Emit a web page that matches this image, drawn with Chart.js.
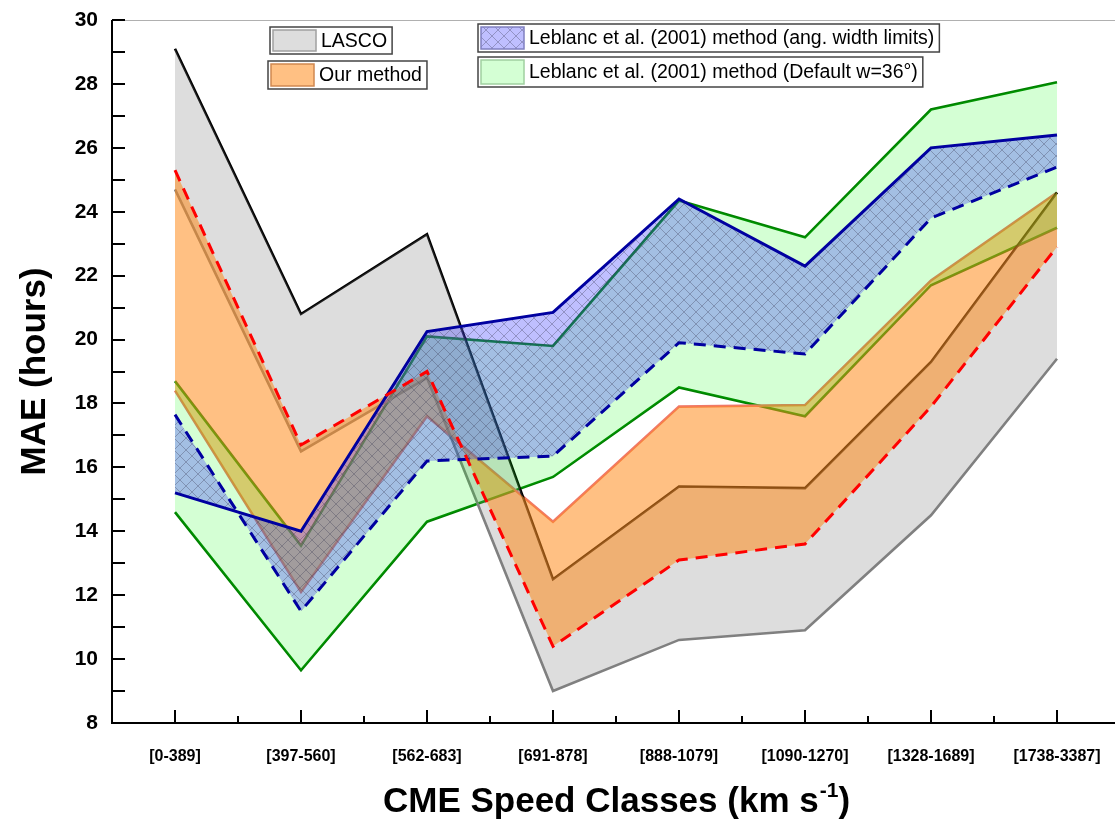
<!DOCTYPE html>
<html lang="en">
<head>
    <meta charset="UTF-8">
    <title>MAE vs CME Speed Classes</title>
    <script src="https://cdn.jsdelivr.net/npm/chart.js"></script>
    <style>
        body { margin: 0; background: #fff; overflow: hidden; }
        .wrap { width: 1120px; height: 825px; }
    </style>
</head>
<body>
    <div class="wrap">
        <canvas id="maeChart" width="1120" height="825"></canvas>
    </div>
    <script>
// CME speed classes (km/s)
const speedClasses = ['[0-389]', '[397-560]', '[562-683]', '[691-878]', '[888-1079]', '[1090-1270]', '[1328-1689]', '[1738-3387]'];

// MAE (hours) - band edges
const lascoUpper = [29.1, 20.8, 23.3, 12.5, 15.4, 15.35, 19.3, 24.6];
const lascoLower = [24.7, 16.5, 18.8, 9.0, 10.6, 10.9, 14.5, 19.4];
const oursUpper = [25.3, 16.7, 19.0, 10.4, 13.1, 13.6, 17.9, 22.9];
const oursLower = [18.4, 12.1, 17.6, 14.3, 17.9, 17.95, 21.85, 24.6];
const angWidthSolid = [15.2, 14.0, 20.25, 20.85, 24.4, 22.3, 26.0, 26.4];
const angWidthDashed = [17.65, 11.5, 16.2, 16.35, 19.9, 19.55, 23.8, 25.4];
const defaultUpper = [18.7, 13.55, 20.1, 19.8, 24.35, 23.2, 27.2, 28.05];
const defaultLower = [14.6, 9.65, 14.3, 15.7, 18.5, 17.6, 21.7, 23.5];

const yTicks = { min: 8, max: 30, step: 2 };

const FONT = "'Liberation Sans', Arial, sans-serif";

const grayFill = 'rgba(128,128,128,0.27)';
const orangeFill = 'rgba(255,140,30,0.55)';
const greenFill = 'rgba(0,255,0,0.17)';
const blueFill = 'rgba(60,60,255,0.33)';

// cross-hatch pattern for the "ang. width limits" band
function makeHatch() {
    const c = document.createElement('canvas');
    c.width = 12; c.height = 12;
    const g = c.getContext('2d');
    g.fillStyle = blueFill;
    g.fillRect(0, 0, 12, 12);
    g.strokeStyle = 'rgba(60,60,90,0.35)';
    g.lineWidth = 1;
    g.beginPath();
    g.moveTo(-1, -1); g.lineTo(13, 13);
    g.moveTo(13, -1); g.lineTo(-1, 13);
    g.stroke();
    return g.createPattern(c, 'repeat');
}
const hatch = makeHatch();

// order 10 = drawn under the fills, order 0 = drawn on top of them
function lineSet(label, data, color, width, dash, order) {
    return {
        label: label,
        data: data,
        borderColor: color,
        borderWidth: width,
        borderDash: dash || [],
        pointRadius: 0,
        tension: 0,
        fill: false,
        order: order
    };
}

function fillSet(label, data, target, bg, order) {
    return {
        label: label,
        data: data,
        borderColor: 'transparent',
        borderWidth: 0,
        pointRadius: 0,
        tension: 0,
        backgroundColor: bg,
        fill: target,
        order: order
    };
}

// axes drawn by hand: ticks point inward like the original
const axesPlugin = {
    id: 'axesPlugin',
    afterDatasetsDraw(chart) {
        const { ctx, chartArea: a, scales: { x, y } } = chart;
        ctx.save();
        ctx.strokeStyle = '#b0b0b0';
        ctx.lineWidth = 1;
        ctx.beginPath();
        ctx.moveTo(a.left, a.top + 0.5);
        ctx.lineTo(a.right, a.top + 0.5);
        ctx.stroke();

        ctx.strokeStyle = '#000';
        ctx.lineWidth = 2;
        ctx.beginPath();
        ctx.moveTo(a.left, a.top);
        ctx.lineTo(a.left, a.bottom + 1);
        ctx.moveTo(a.left - 1, a.bottom);
        ctx.lineTo(a.right, a.bottom);
        for (let v = yTicks.min; v <= yTicks.max; v++) {
            const py = Math.round(y.getPixelForValue(v));
            ctx.moveTo(a.left, py);
            ctx.lineTo(a.left + 13, py);
        }
        for (let i = 0; i < speedClasses.length; i++) {
            const px = Math.round(x.getPixelForValue(i));
            ctx.moveTo(px, a.bottom);
            ctx.lineTo(px, a.bottom - 13);
            if (i > 0) {
                const mx = Math.round((x.getPixelForValue(i - 1) + px) / 2);
                ctx.moveTo(mx, a.bottom);
                ctx.lineTo(mx, a.bottom - 7);
            }
        }
        ctx.stroke();
        ctx.restore();
    },
    afterDraw(chart) {
        const { ctx, chartArea: a } = chart;
        ctx.save();
        ctx.fillStyle = '#000';

        // x axis title with superscript
        const main = 'CME Speed Classes (km s';
        const sup = '-1';
        const tail = ')';
        ctx.font = 'bold 35px ' + FONT;
        const wMain = ctx.measureText(main).width;
        const wTail = ctx.measureText(tail).width;
        ctx.font = 'bold 21px ' + FONT;
        const wSup = ctx.measureText(sup).width;
        const cx = (a.left + a.right) / 2;
        let sx = cx - (wMain + wSup + wTail) / 2;
        const base = 812;
        ctx.textBaseline = 'alphabetic';
        ctx.textAlign = 'left';
        ctx.font = 'bold 35px ' + FONT;
        ctx.fillText(main, sx, base);
        ctx.font = 'bold 21px ' + FONT;
        ctx.fillText(sup, sx + wMain + 1, base - 15);
        ctx.font = 'bold 35px ' + FONT;
        ctx.fillText(tail, sx + wMain + wSup + 1, base);

        // y axis title
        ctx.translate(35, (a.top + a.bottom) / 2);
        ctx.rotate(-Math.PI / 2);
        ctx.textAlign = 'center';
        ctx.textBaseline = 'middle';
        ctx.font = 'bold 35px ' + FONT;
        ctx.fillText('MAE (hours)', 0, 0);
        ctx.restore();

        // legend boxes
        const items = [
            { x: 270, y: 27, h: 27, label: 'LASCO', fill: grayFill, edge: '#a0a0a0' },
            { x: 268, y: 61, h: 28, label: 'Our method', fill: orangeFill, edge: '#d08850' },
            { x: 478, y: 24, h: 28, label: 'Leblanc et al. (2001) method (ang. width limits)', fill: hatch, edge: '#8080c0' },
            { x: 478, y: 57, h: 30, label: 'Leblanc et al. (2001) method (Default w=36°)', fill: greenFill, edge: '#a0d0a0' }
        ];
        ctx.save();
        ctx.font = '19.5px ' + FONT;
        ctx.textBaseline = 'middle';
        items.forEach(it => {
            const tw = ctx.measureText(it.label).width;
            const w = 52 + tw + 4;
            ctx.fillStyle = '#fff';
            ctx.fillRect(it.x, it.y, w, it.h);
            ctx.fillStyle = it.fill;
            ctx.fillRect(it.x + 3, it.y + 3, 43, it.h - 6);
            ctx.strokeStyle = it.edge;
            ctx.lineWidth = 1.5;
            ctx.strokeRect(it.x + 3, it.y + 3, 43, it.h - 6);
            ctx.strokeStyle = '#444';
            ctx.lineWidth = 1.5;
            ctx.strokeRect(it.x, it.y, w, it.h);
            ctx.fillStyle = '#000';
            ctx.fillText(it.label, it.x + 51, it.y + it.h / 2 + 1);
        });
        ctx.restore();
    }
};

const ctx = document.getElementById('maeChart').getContext('2d');
new Chart(ctx, {
    type: 'line',
    data: {
        labels: speedClasses,
        datasets: [
            lineSet('LASCO upper', lascoUpper, '#000000', 2.6, null, 10),                // 0
            lineSet('LASCO lower', lascoLower, '#808080', 2.6, null, 10),                // 1
            lineSet('Our method upper', oursUpper, '#ff0000', 3, [12, 8], 0),            // 2
            lineSet('Our method lower', oursLower, '#f07868', 2.6, null, 10),            // 3
            lineSet('Ang. width solid', angWidthSolid, '#0000a0', 3, null, 0),           // 4
            lineSet('Ang. width dashed', angWidthDashed, '#0000a0', 3, [12, 8], 0),      // 5
            lineSet('Default upper', defaultUpper, '#008000', 2.6, null, 10),            // 6
            lineSet('Default lower', defaultLower, '#008000', 2.6, null, 10),            // 7
            fillSet('LASCO', lascoUpper, 1, grayFill, 4),
            fillSet('Our method', oursUpper, 3, orangeFill, 3),
            fillSet('Leblanc default', defaultUpper, 7, greenFill, 2),
            fillSet('Leblanc ang. width', angWidthSolid, 5, hatch, 1)
        ]
    },
    options: {
        responsive: false,
        animation: false,
        devicePixelRatio: 1,
        layout: { padding: { top: 20, left: 0, right: 0, bottom: 0 } },
        plugins: {
            legend: { display: false },
            tooltip: { enabled: false },
            filler: { propagate: false }
        },
        scales: {
            x: {
                type: 'category',
                offset: true,
                grid: { display: false, drawTicks: false },
                border: { display: false },
                ticks: {
                    color: '#000',
                    padding: 24,
                    maxRotation: 0,
                    autoSkip: false,
                    font: { family: FONT, size: 16, weight: 'bold' }
                },
                afterFit(scale) {
                    scale.height = 102;
                    scale.paddingLeft = 0;
                    scale.paddingRight = 0;
                }
            },
            y: {
                min: yTicks.min,
                max: yTicks.max,
                grid: { display: false, drawTicks: false },
                border: { display: false },
                ticks: {
                    stepSize: yTicks.step,
                    color: '#000',
                    padding: 14,
                    font: { family: FONT, size: 21, weight: 'bold' }
                },
                afterFit(scale) {
                    scale.width = 112;
                    scale.paddingTop = 0;
                    scale.paddingBottom = 0;
                }
            }
        }
    },
    plugins: [axesPlugin]
});
    </script>
</body>
</html>
